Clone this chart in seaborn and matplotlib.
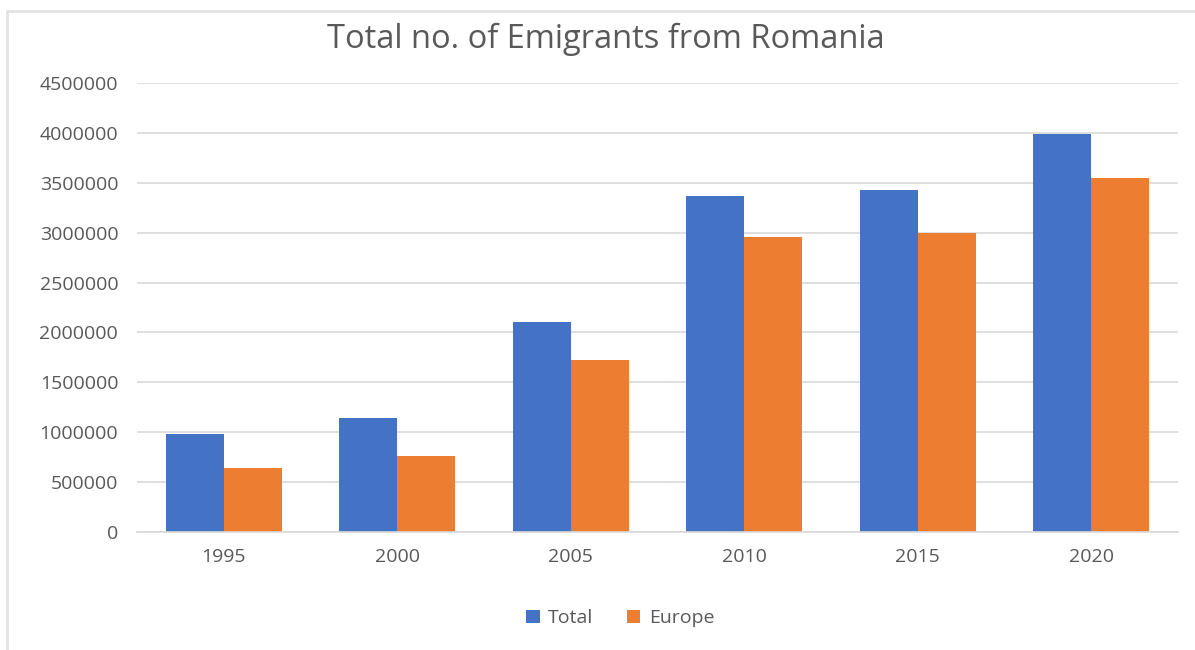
import matplotlib
matplotlib.use("Agg")
import matplotlib.pyplot as plt
from matplotlib.lines import Line2D
from matplotlib.patches import Patch
import seaborn as sns
import pandas as pd

years = ["1995", "2000", "2005", "2010", "2015", "2020"]
total = [975000, 1142000, 2106000, 3368000, 3424000, 3988000]
europe = [642000, 763000, 1718000, 2958000, 2997000, 3554000]
series = ["Total", "Europe"]
colors = ["#4472C4", "#ED7D31"]
yticks = [0, 500000, 1000000, 1500000, 2000000, 2500000, 3000000, 3500000, 4000000, 4500000]

df = pd.DataFrame({
    "Year": years * 2,
    "Series": [series[0]] * len(years) + [series[1]] * len(years),
    "Emigrants": total + europe,
})

sns.set_theme(style="white")
plt.rcParams["font.family"] = ["Open Sans", "DejaVu Sans"]
text_color = "#595959"
grid_color = "#D9D9D9"
label_size = 14

fig = plt.figure(figsize=(11.95, 6.5), dpi=100)
ax = fig.add_axes([0.1146, 0.1823, 0.8712, 0.6895])

sns.barplot(data=df, x="Year", y="Emigrants", hue="Series", palette=colors,
            width=0.667, gap=0, saturation=1, ax=ax, legend=False,
            edgecolor="none", linewidth=0)

ax.set_ylim(0, 4500000)
ax.set_xlim(-0.5, len(years) - 0.5)
ax.set_yticks(yticks)
ax.set_yticklabels([str(v) for v in yticks])
ax.set_xlabel("")
ax.set_ylabel("")
ax.yaxis.grid(True, color=grid_color, linewidth=1.2)
ax.set_axisbelow(True)
for side in ["top", "right", "left"]:
    ax.spines[side].set_visible(False)
ax.spines["bottom"].set_color(grid_color)
ax.spines["bottom"].set_linewidth(1.2)
ax.tick_params(axis="both", length=0, colors=text_color, labelsize=label_size)
ax.tick_params(axis="y", pad=13.5)
ax.tick_params(axis="x", pad=12)

fig.text(0.507, 0.94, "Total no. of Emigrants from Romania", ha="center", va="center",
         fontsize=23.5, color=text_color)

handles = [Patch(facecolor=c, edgecolor="none") for c in colors]
fig.legend(handles, series, loc="center", bbox_to_anchor=(0.519, 0.049), ncol=2,
           frameon=False, fontsize=label_size, labelcolor=text_color, handlelength=0.7,
           handleheight=0.7, handletextpad=0.45, columnspacing=1.7)

# light frame along the left and top edges of the chart area
fig.add_artist(Line2D([7 / 1195, 7 / 1195], [0, 1 - 11 / 650], transform=fig.transFigure,
                      color="#E3E3E3", linewidth=2))
fig.add_artist(Line2D([7 / 1195, 1], [1 - 11 / 650, 1 - 11 / 650], transform=fig.transFigure,
                      color="#E3E3E3", linewidth=2))

fig.savefig("out.png", dpi=100)
